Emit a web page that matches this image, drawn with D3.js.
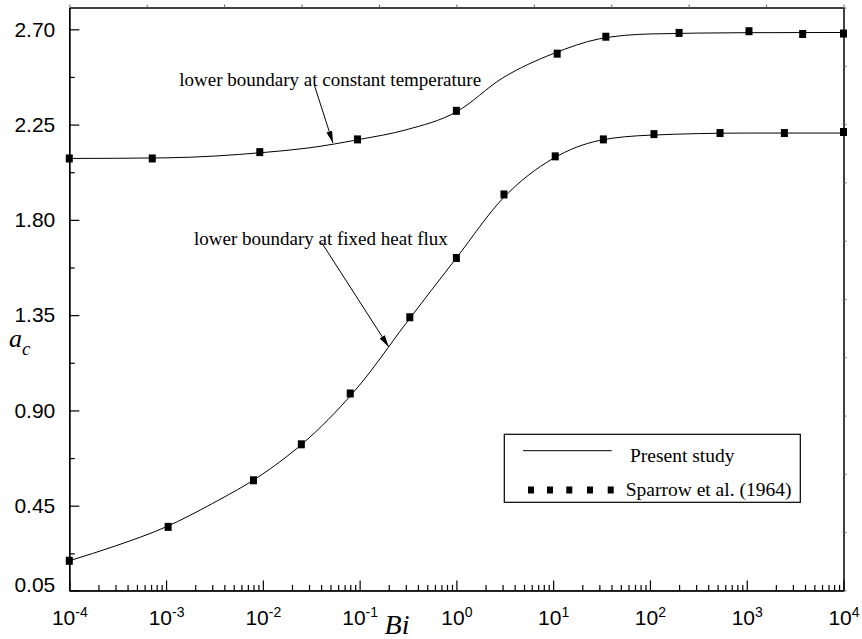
<!DOCTYPE html>
<html>
<head>
<meta charset="utf-8">
<script src="https://cdn.jsdelivr.net/npm/d3@7"></script>
<style>
  body { margin: 0; background: #fff; }
  .sans { font-family: "Liberation Sans", Arial, sans-serif; }
  .serif { font-family: "Liberation Serif", "Times New Roman", serif; }
</style>
</head>
<body>
<svg id="container" width="862" height="639"></svg>
<script>
// present study curves
const upperLineBi = [1e-4, 1e-3, 1e-2, 3e-2, 1e-1, 3e-1, 1, 3, 10, 30, 100, 1e3, 1e4];
const upperLineAc = [2.090, 2.093, 2.118, 2.140, 2.180, 2.225, 2.310, 2.470, 2.585, 2.655, 2.678, 2.684, 2.685];
const lowerLineBi = [1e-4, 3e-4, 1e-3, 3e-3, 1e-2, 3e-2, 1e-1, 3e-1, 1, 3, 10, 30, 100, 1e3, 1e4];
const lowerLineAc = [0.19, 0.26, 0.35, 0.46, 0.60, 0.77, 1.02, 1.31, 1.62, 1.90, 2.09, 2.175, 2.20, 2.21, 2.21];

// Sparrow et al. (1964) points
const upperPtsBi = [1e-4, 7.2e-4, 9.3e-3, 0.095, 1, 11, 35, 200, 1055, 3785, 1e4];
const upperPtsAc = [2.09, 2.09, 2.12, 2.18, 2.315, 2.585, 2.665, 2.683, 2.691, 2.678, 2.68];
const lowerPtsBi = [1e-4, 1.05e-3, 8e-3, 2.5e-2, 8e-2, 0.33, 1, 3.1, 10.5, 33, 110, 530, 2450, 1e4];
const lowerPtsAc = [0.19, 0.35, 0.57, 0.74, 0.98, 1.34, 1.62, 1.92, 2.10, 2.18, 2.205, 2.21, 2.21, 2.215];

const yTicks = [0.05, 0.45, 0.90, 1.35, 1.80, 2.25, 2.70];
const yMinor = [0.225, 0.675, 1.125, 1.575, 2.025, 2.475];
const xExponents = [-4, -3, -2, -1, 0, 1, 2, 3, 4];

const svg = d3.select('#container');
svg.selectAll("*").remove();

const plotLeft = 69.3, plotRight = 843.5, plotTop = 7.5, plotBottom = 590.4;

const xScale = d3.scaleLog().domain([1e-4, 1e4]).range([plotLeft, plotRight]);
const yScale = d3.scaleLinear().domain([0.05, 2.803]).range([plotBottom, plotTop]);

const zip = (a, b) => a.map((v, i) => [v, b[i]]);

// frame: top and right with small ticks
const topScale = d3.scaleLinear().domain([0, 10]).range([plotLeft, plotRight]);
svg.append('g')
    .attr('transform', 'translate(0,' + plotTop + ')')
    .call(d3.axisTop(topScale).ticks(10).tickSize(3).tickSizeOuter(0).tickFormat(''))
    .call(g => g.selectAll('line').attr('stroke', '#666'))
    .call(g => g.select('.domain').attr('stroke-width', 1.5));

const rightScale = d3.scaleLinear().domain([0, 10]).range([plotBottom, plotTop]);
svg.append('g')
    .attr('transform', 'translate(' + plotRight + ',0)')
    .call(d3.axisRight(rightScale).ticks(10).tickSize(3).tickSizeOuter(0).tickFormat(''))
    .call(g => g.selectAll('line').attr('stroke', '#666'))
    .call(g => g.select('.domain').attr('stroke-width', 1.5));

// bottom axis (log)
const xMajor = xExponents.map(e => Math.pow(10, e));
const xMinorVals = [];
for (let e = -4; e < 4; e++) {
    for (let m = 2; m <= 9; m++) xMinorVals.push(m * Math.pow(10, e));
}

svg.append('g')
    .attr('transform', 'translate(0,' + plotBottom + ')')
    .call(d3.axisBottom(xScale).tickValues(xMinorVals).tickSize(-5.5).tickSizeOuter(0).tickFormat(''))
    .call(g => g.selectAll('line').attr('stroke-width', 1.2));

const xAxis = svg.append('g')
    .attr('transform', 'translate(0,' + plotBottom + ')')
    .call(d3.axisBottom(xScale).tickValues(xMajor).tickSize(-10).tickSizeOuter(0).tickFormat(''))
    .call(g => g.selectAll('line').attr('stroke-width', 1.2))
    .call(g => g.select('.domain').attr('stroke-width', 1.5));

xAxis.selectAll('.tick').each(function (d, i) {
    const t = d3.select(this).append('text')
        .attr('class', 'sans')
        .attr('y', 35)
        .attr('fill', '#000')
        .attr('text-anchor', 'middle')
        .style('font-size', '21px');
    t.append('tspan').text('10');
    t.append('tspan')
        .attr('dy', -8)
        .style('font-size', '14px')
        .text(xExponents[i]);
});

// left axis
svg.append('g')
    .attr('transform', 'translate(' + plotLeft + ',0)')
    .call(d3.axisLeft(yScale).tickValues(yMinor).tickSize(-5.5).tickSizeOuter(0).tickFormat(''))
    .call(g => g.selectAll('line').attr('stroke-width', 1.2));

svg.append('g')
    .attr('transform', 'translate(' + plotLeft + ',0)')
    .call(d3.axisLeft(yScale).tickValues(yTicks).tickSize(-10).tickSizeOuter(0).tickPadding(14).tickFormat(d3.format('.2f')))
    .call(g => g.selectAll('line').attr('stroke-width', 1.2))
    .call(g => g.select('.domain').attr('stroke-width', 1.5))
    .call(g => g.selectAll('text')
        .attr('class', 'sans')
        .attr('fill', '#000')
        .style('font-size', '21px')
        .attr('dy', d => d === 0.05 ? '0.05em' : '0.32em'));

// axis titles
const yTitle = svg.append('text')
    .attr('class', 'serif')
    .attr('x', 9)
    .attr('y', 347)
    .style('font-style', 'italic')
    .style('font-size', '26px');
yTitle.append('tspan').text('a');
yTitle.append('tspan').attr('dy', 8).style('font-size', '19px').text('c');

svg.append('text')
    .attr('class', 'serif')
    .attr('x', 397)
    .attr('y', 634)
    .attr('text-anchor', 'middle')
    .style('font-style', 'italic')
    .style('font-size', '28px')
    .text('Bi');

// curves
const line = d3.line()
    .x(d => xScale(d[0]))
    .y(d => yScale(d[1]))
    .curve(d3.curveMonotoneX);

for (let ds of [zip(upperLineBi, upperLineAc), zip(lowerLineBi, lowerLineAc)]) {
    svg.append('path')
        .datum(ds)
        .attr('d', line)
        .attr('fill', 'none')
        .attr('stroke', '#000')
        .attr('stroke-width', 1);
}

// markers
for (let pts of [zip(upperPtsBi, upperPtsAc), zip(lowerPtsBi, lowerPtsAc)]) {
    svg.append('g').selectAll('rect')
        .data(pts)
        .join('rect')
        .attr('x', d => xScale(d[0]) - 3.5)
        .attr('y', d => yScale(d[1]) - 4)
        .attr('width', 7)
        .attr('height', 8)
        .attr('fill', '#000');
}

// annotations
svg.append('defs').append('marker')
    .attr('id', 'arrow')
    .attr('viewBox', '0 0 12 6')
    .attr('refX', 12)
    .attr('refY', 3)
    .attr('markerWidth', 12)
    .attr('markerHeight', 6)
    .attr('markerUnits', 'userSpaceOnUse')
    .attr('orient', 'auto')
    .append('path')
    .attr('d', 'M0,0 L12,3 L0,6 Z')
    .attr('fill', '#000');

const notes = [
    { text: 'lower boundary at constant temperature', tx: 179.3, ty: 86, from: [314.3, 85], to: [0.053, 2.163] },
    { text: 'lower boundary at fixed heat flux', tx: 194, ty: 245, from: [321.7, 242.7], to: [0.2, 1.2] }
];
for (let n of notes) {
    svg.append('text')
        .attr('class', 'serif')
        .attr('x', n.tx)
        .attr('y', n.ty)
        .style('font-size', '19px')
        .text(n.text);
    svg.append('line')
        .attr('x1', n.from[0])
        .attr('y1', n.from[1])
        .attr('x2', xScale(n.to[0]))
        .attr('y2', yScale(n.to[1]))
        .attr('stroke', '#000')
        .attr('stroke-width', 1)
        .attr('marker-end', 'url(#arrow)');
}

// legend
const lg = svg.append('g');
lg.append('rect')
    .attr('x', 504.3).attr('y', 434.3)
    .attr('width', 296).attr('height', 68)
    .attr('fill', '#fff').attr('stroke', '#000').attr('stroke-width', 1.2);
lg.append('line')
    .attr('x1', 523).attr('x2', 611.7)
    .attr('y1', 450.7).attr('y2', 450.7)
    .attr('stroke', '#000').attr('stroke-width', 1);
lg.append('text')
    .attr('class', 'serif')
    .attr('x', 630).attr('y', 461.7)
    .style('font-size', '19.5px')
    .text('Present study');
lg.selectAll('rect.m')
    .data([531, 550, 569.3, 590, 610.7])
    .join('rect')
    .attr('class', 'm')
    .attr('x', d => d - 3).attr('y', 486.5)
    .attr('width', 6).attr('height', 7)
    .attr('fill', '#000');
lg.append('text')
    .attr('class', 'serif')
    .attr('x', 625.7).attr('y', 496)
    .style('font-size', '19.5px')
    .text('Sparrow et al. (1964)');
</script>
</body>
</html>
